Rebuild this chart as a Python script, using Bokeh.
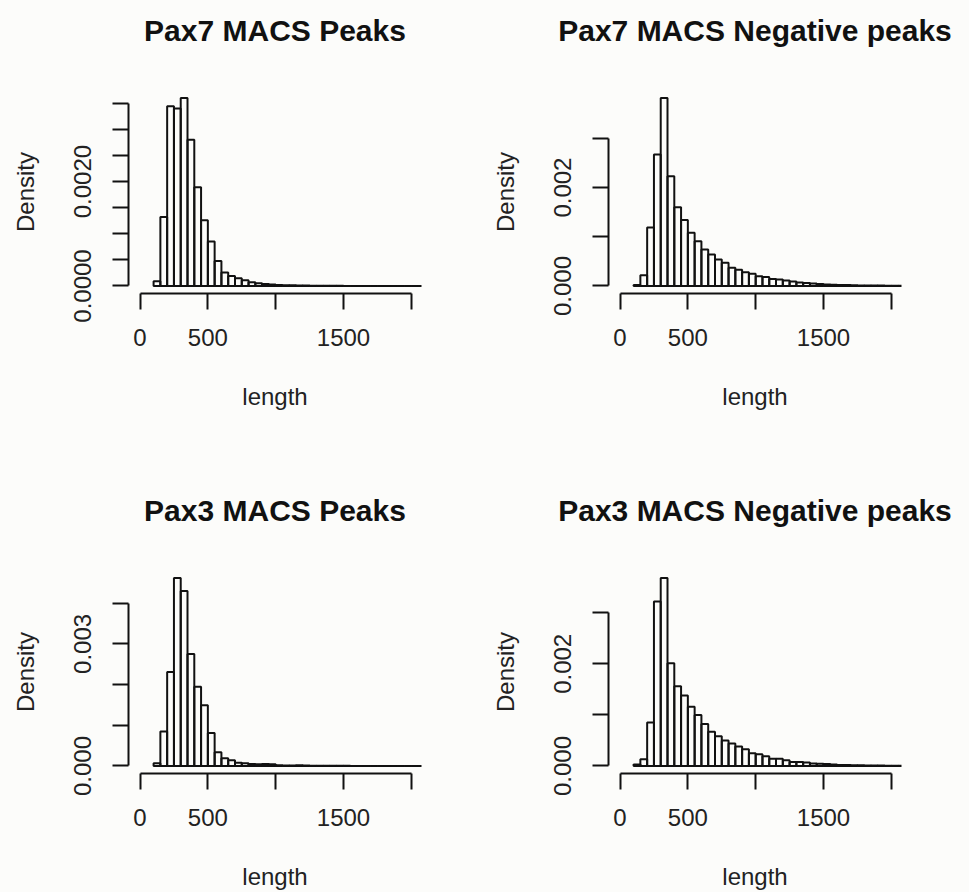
import math
from bokeh.plotting import figure
from bokeh.layouts import column, row
from bokeh.models import FixedTicker, Range1d, LinearAxis
from bokeh.embed import file_html
from bokeh.resources import INLINE

# ---- data ----
breaks = list(range(100, 2150, 50))  # histogram bin edges (length)

titles = ["Pax7 MACS Peaks", "Pax7 MACS Negative peaks",
          "Pax3 MACS Peaks", "Pax3 MACS Negative peaks"]

pax7_peaks = [0.00009, 0.00132, 0.00344, 0.00340, 0.00360, 0.00280, 0.00189, 0.00126,
              0.00085, 0.00048, 0.00026, 0.00019, 0.00015, 0.00011, 0.00007, 0.00005,
              0.00004, 0.00003, 0.00002, 0.000015, 0.000012, 0.00001, 0.000008, 0.000006,
              0.000005, 0.000004, 0.000003, 0.000003, 0.000002, 0.000002, 0.000002,
              0.000001, 0.000001, 0.000001, 0.000001, 0.000001, 0.000001, 0.000001,
              0.000001, 0.000001]

pax7_negative = [0.00002, 0.00022, 0.00119, 0.00267, 0.00382, 0.00223, 0.00160, 0.00134,
                 0.00108, 0.00091, 0.00074, 0.00064, 0.00054, 0.00047, 0.00037, 0.00033,
                 0.00028, 0.00025, 0.00020, 0.00018, 0.00014, 0.00013, 0.00011, 0.00009,
                 0.00007, 0.00006, 0.00005, 0.00004, 0.00003, 0.000027, 0.00002, 0.000018,
                 0.000015, 0.000012, 0.00001, 0.000009, 0.000008, 0.000006, 0.000005,
                 0.000004]

pax3_peaks = [0.00007, 0.00085, 0.00231, 0.00462, 0.00430, 0.00275, 0.00195, 0.00149,
              0.00081, 0.00034, 0.00019, 0.00014, 0.00008, 0.00007, 0.00005, 0.00004,
              0.00005, 0.00004, 0.00002, 0.00001, 0.00001, 0.00002, 0.00001, 0.000005,
              0.000005, 0.000004, 0.000004, 0.000003, 0.000003, 0.000002, 0.000002,
              0.000002, 0.000001, 0.000001, 0.000001, 0.000001, 0.000001, 0.000001,
              0.000001, 0.000001]

pax3_negative = [0.00003, 0.00013, 0.00085, 0.00322, 0.00368, 0.00201, 0.00156, 0.00138,
                 0.00116, 0.00100, 0.00082, 0.00067, 0.00058, 0.00050, 0.00044, 0.00038,
                 0.00033, 0.00025, 0.00023, 0.00019, 0.00014, 0.00014, 0.00011, 0.00008,
                 0.00008, 0.00007, 0.00005, 0.000045, 0.00004, 0.00003, 0.00002, 0.000018,
                 0.000015, 0.000012, 0.00001, 0.000008, 0.000007, 0.000006, 0.000005,
                 0.000004]

series = [pax7_peaks, pax7_negative, pax3_peaks, pax3_negative]

x_ticks = [0, 500, 1000, 1500, 2000]
x_tick_labels = {0: "0", 500: "500", 1000: "", 1500: "1500", 2000: ""}

y_ticks = [
    [0.0, 0.0005, 0.001, 0.0015, 0.002, 0.0025, 0.003, 0.0035],
    [0.0, 0.001, 0.002, 0.003],
    [0.0, 0.001, 0.002, 0.003, 0.004],
    [0.0, 0.001, 0.002, 0.003],
]
y_tick_labels = [
    {0.0: "0.0000", 0.002: "0.0020"},
    {0.0: "0.000", 0.002: "0.002"},
    {0.0: "0.000", 0.003: "0.003"},
    {0.0: "0.000", 0.002: "0.002"},
]
x_lim = (-85, 2075)

FONT = "Liberation Sans"
BG = "#fcfcfa"


def make_panel(i, right_border, bottom_border):
    dens = series[i]
    lefts = breaks[:-1]
    rights = breaks[1:]
    ymax = max(dens)
    p = figure(
        frame_width=293, frame_height=203,
        min_border_left=128, min_border_right=right_border,
        min_border_top=90, min_border_bottom=bottom_border,
        x_range=Range1d(*x_lim),
        y_range=Range1d(-0.04 * ymax, 1.04 * ymax),
        output_backend="svg", toolbar_location=None,
        background_fill_color=BG, border_fill_color=BG,
    )
    p.outline_line_color = None
    p.grid.visible = False

    p.quad(left=lefts, right=rights, bottom=0, top=dens,
           fill_color=None, line_color="#111111", line_width=2)

    xa = p.below[0]
    ya = p.left[0]
    for ax in (xa, ya):
        ax.axis_line_width = 2
        ax.axis_line_color = "#111111"
        ax.major_tick_line_width = 2
        ax.major_tick_line_color = "#111111"
        ax.major_tick_out = 16
        ax.major_tick_in = 0
        ax.minor_tick_line_color = None
        ax.major_label_text_font = FONT
        ax.major_label_text_font_size = "24px"
        ax.major_label_text_color = "#222222"
        ax.axis_label_text_font = FONT
        ax.axis_label_text_font_size = "24px"
        ax.axis_label_text_font_style = "normal"
        ax.axis_label_text_color = "#222222"

    xa.ticker = FixedTicker(ticks=x_ticks)
    xa.major_label_overrides = x_tick_labels
    xa.bounds = (x_ticks[0], x_ticks[-1])
    xa.axis_label = "length"
    xa.major_label_standoff = 19
    xa.axis_label_standoff = 34

    yt = y_ticks[i]
    ya.ticker = FixedTicker(ticks=yt)
    ya.major_label_overrides = {t: y_tick_labels[i].get(t, "") for t in yt}
    ya.bounds = (yt[0], yt[-1])
    ya.axis_label = "Density"
    ya.major_label_orientation = "parallel"
    ya.major_label_standoff = 21
    ya.axis_label_standoff = 33

    # panel title, centred over the plot region
    top = LinearAxis(ticker=FixedTicker(ticks=[]), axis_line_color=None,
                     major_tick_line_color=None, minor_tick_line_color=None,
                     major_tick_out=0, major_tick_in=0, major_label_standoff=0,
                     major_label_text_font_size="0px",
                     axis_label=titles[i], axis_label_text_font=FONT,
                     axis_label_text_font_size="30px",
                     axis_label_text_font_style="bold",
                     axis_label_text_color="#111111",
                     axis_label_standoff=44)
    p.add_layout(top, "above")
    return p


p1 = make_panel(0, 59, 187)
p2 = make_panel(1, 68, 187)
p3 = make_panel(2, 59, 119)
p4 = make_panel(3, 68, 119)

layout = column(row(p1, p2, spacing=0), row(p3, p4, spacing=0), spacing=0,
                styles={"background-color": BG})

with open("out.html", "w") as f:
    f.write(file_html(layout, INLINE))
